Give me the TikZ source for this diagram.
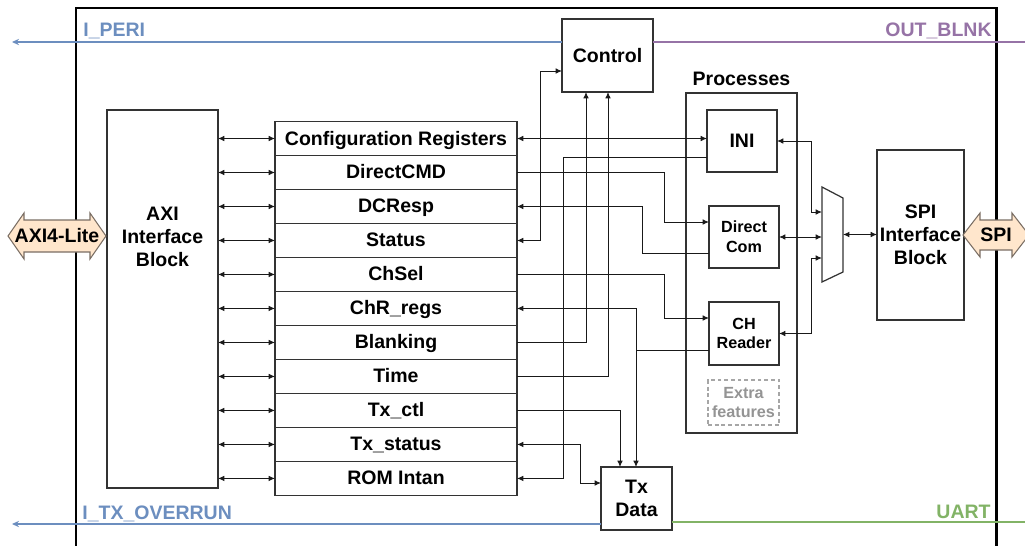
\documentclass[tikz,border=0pt]{standalone}
\usepackage{fontspec}
\setmainfont{Liberation Sans}
\usetikzlibrary{arrows.meta, positioning, calc}

\definecolor{periblue}{HTML}{6C8EBF}
\definecolor{blnkpurple}{HTML}{9673A6}
\definecolor{uartgreen}{HTML}{82B366}
\definecolor{portfill}{HTML}{FFE6CC}
\definecolor{portdraw}{HTML}{7A6E64}

\begin{document}
\begin{tikzpicture}[x=0.02cm, y=-0.02cm,
  outline/.style={draw=black!80, line width=0.7pt},
  block/.style={rectangle, outline, align=center, inner sep=0pt, outer sep=0pt, font=\fontsize{11.1}{13}\selectfont\bfseries},
  reg/.style={block, minimum width=4.84cm, minimum height=0.68cm, text height=9.4pt, text depth=2pt},
  proc/.style={block, minimum width=1.4cm, minimum height=1.24cm, font=\fontsize{9.2}{11.3}\selectfont\bfseries},
  port/.style={draw=portdraw, fill=portfill, line width=0.6pt, line join=miter},
  txt/.style={inner sep=0pt, font=\fontsize{11.1}{13}\selectfont\bfseries, align=center},
  wire/.style={draw=black!90, line width=0.55pt},
  arrow/.style={wire, -{Latex[length=3.6pt, width=3.2pt]}},
  biarrow/.style={wire, {Latex[length=3.6pt, width=3.2pt]}-{Latex[length=3.6pt, width=3.2pt]}},
  sig/.style={line width=0.75pt}]

\useasboundingbox (0,0) rectangle (1025,545);

% outer frame of the design
\draw[line width=1.7pt] (76,8) rectangle (996,570);

% AXI side
\node[block, minimum width=2.22cm, minimum height=7.56cm] (axi) at (162.5,299) {};
\node[txt] (axitext) at (162.5,237) {AXI\\Interface\\Block};

% register bank
\node[reg] (cfg) at (396,138.5) {Configuration Registers};
\node[reg, below=0pt of cfg] (dcmd) {DirectCMD};
\node[reg, below=0pt of dcmd] (dcresp) {DCResp};
\node[reg, below=0pt of dcresp] (status) {Status};
\node[reg, below=0pt of status] (chsel) {ChSel};
\node[reg, below=0pt of chsel] (chrregs) {ChR\_regs};
\node[reg, below=0pt of chrregs] (blank) {Blanking};
\node[reg, below=0pt of blank] (time) {Time};
\node[reg, below=0pt of time] (txctl) {Tx\_ctl};
\node[reg, below=0pt of txctl] (txstat) {Tx\_status};
\node[reg, below=0pt of txstat] (rom) {ROM Intan};

\draw[biarrow] (axi.east |- cfg) -- (cfg.west);
\draw[biarrow] (axi.east |- dcmd) -- (dcmd.west);
\draw[biarrow] (axi.east |- dcresp) -- (dcresp.west);
\draw[biarrow] (axi.east |- status) -- (status.west);
\draw[biarrow] (axi.east |- chsel) -- (chsel.west);
\draw[biarrow] (axi.east |- chrregs) -- (chrregs.west);
\draw[biarrow] (axi.east |- blank) -- (blank.west);
\draw[biarrow] (axi.east |- time) -- (time.west);
\draw[biarrow] (axi.east |- txctl) -- (txctl.west);
\draw[biarrow] (axi.east |- txstat) -- (txstat.west);
\draw[biarrow] (axi.east |- rom) -- (rom.west);

% control, processes and tx
\node[block, minimum width=1.82cm, minimum height=1.46cm] (ctrl) at (607.5,55.5) {Control};
\node[block, minimum width=2.22cm, minimum height=6.8cm,
  label={[name=proclabel, inner sep=0pt, label distance=4pt, font=\fontsize{11.1}{13}\selectfont\bfseries]above:Processes}] (procs) at (741.5,263) {};
\node[block, minimum width=1.4cm, minimum height=1.24cm] (ini) at (742,141) {INI};
\node[proc] (dcom) at (744,237) {Direct\\Com};
\node[proc, minimum height=1.26cm] (chrd) at (744,333.5) {CH\\Reader};
\node[proc, minimum width=1.42cm, minimum height=0.9cm, draw=black!35, dash pattern=on 2.2pt off 1.6pt, text=black!42] (extra) at (743.5,402.5) {Extra\\features};
\node[block, minimum width=1.42cm, minimum height=1.26cm] (txd) at (636.5,498.5) {Tx\\Data};

% mux in front of the SPI block
\node[minimum width=0.42cm, minimum height=1.9cm, inner sep=0pt, outer sep=0pt] (mux) at (832.5,234.5) {};
\draw[outline] (mux.north west) -- ($(mux.north east)+(0,11)$) -- ($(mux.south east)+(0,-10)$) -- (mux.south west) -- cycle;
\node[block, minimum width=1.74cm, minimum height=3.4cm] (spi) at (920.5,235) {SPI\\Interface\\Block};

% register wiring
\draw[biarrow] (cfg.east) -- (cfg.east -| ini.west);
\draw[biarrow] (status.east) -| (540,71) -- (ctrl.west |- 540,71);
\draw[arrow] (blank.east) -| (ctrl.south -| 586,0);
\draw[arrow] (time.east) -| (ctrl.south -| 608,0);
\draw[arrow] (ini.west |- 0,157) -| (rom.east -| 563,0) -- (rom.east);
\draw[arrow] (dcmd.east) -| (664,222) -- (dcom.west |- 664,222);
\draw[arrow] (dcom.west |- 0,253) -| (dcresp.east -| 642,0) -- (dcresp.east);
\draw[arrow] (chsel.east) -| (664,318) -- (chrd.west |- 664,318);
\coordinate (chrtap) at (636,350);
\draw[arrow] (chrd.west |- chrtap) -| (chrregs.east -| chrtap) -- (chrregs.east);
\draw[arrow] (chrtap) -- (txd.north -| chrtap);
\draw[arrow] (txctl.east) -| (txd.north -| 620,0);
\draw[biarrow] (txstat.east) -| (580,483) -- (txd.west |- 580,483);

% processes to SPI
\draw[biarrow] (ini.east) -| (811,212) -- (mux.west |- 811,212);
\draw[biarrow] (dcom.east) -- (dcom.east -| mux.west);
\draw[biarrow] (chrd.east) -| (811,258) -- (mux.west |- 811,258);
\draw[biarrow] (mux.east) -- (mux.east -| spi.west);

% external signals
\coordinate (periend) at (12,42);
\coordinate (blnkend) at (1030,42);
\coordinate (ovrend) at (12,524);
\coordinate (uartend) at (1030,522);
\draw[sig, periblue, -{Stealth[length=4pt, width=3.6pt]}] (ctrl.west |- periend) -- (periend);
\draw[sig, blnkpurple] (ctrl.east |- blnkend) -- (blnkend);
\draw[sig, periblue, -{Stealth[length=4pt, width=3.6pt]}] (txd.west |- ovrend) -- (ovrend);
\draw[sig, uartgreen] (txd.east |- uartend) -- (uartend);
\node[txt, text=periblue, anchor=base west] (periname) at (83,36) {I\_PERI};
\node[txt, text=blnkpurple, anchor=base east] (blnkname) at (992,36) {OUT\_BLNK};
\node[txt, text=periblue, anchor=base west] (ovrname) at (82,519) {I\_TX\_OVERRUN};
\node[txt, text=uartgreen, anchor=base east] (uartname) at (991,518) {UART};

% bus ports
\draw[port] (8,236) -- (24,213) -- (24,220) -- (90,220) -- (90,213) -- (106,236) -- (90,259) -- (90,252) -- (24,252) -- (24,259) -- cycle;
\node[txt] (axilite) at (57,236) {AXI4-Lite};
\draw[port] (963,235) -- (980,213) -- (980,220) -- (1012,220) -- (1012,213) -- (1029,235) -- (1012,257) -- (1012,250) -- (980,250) -- (980,257) -- cycle;
\node[txt] (spiport) at (996,235) {SPI};

\end{tikzpicture}
\end{document}
